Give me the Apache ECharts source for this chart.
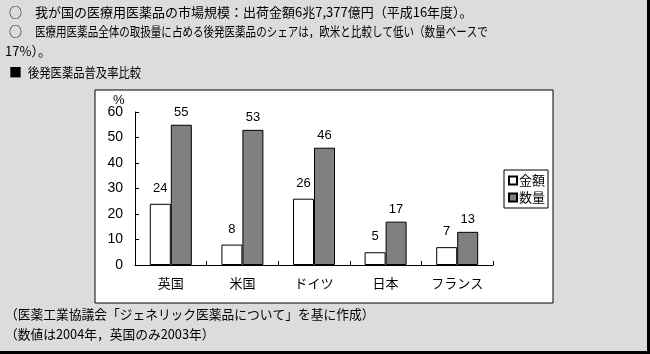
<!DOCTYPE html>
<html><head><meta charset="utf-8">
<script src="https://cdn.jsdelivr.net/npm/echarts@6/dist/echarts.min.js"></script>
<style>html,body{margin:0;padding:0;background:#dcdcdc;}#c{width:650px;height:354px;}</style>
</head><body><div id="c"></div>
<script>
const categories = ['英国', '米国', 'ドイツ', '日本', 'フランス'];
const seriesNames = ['金額', '数量'];
const valueAmount = [24, 8, 26, 5, 7];
const valueVolume = [55, 53, 46, 17, 13];
const yTicks = [0, 10, 20, 30, 40, 50, 60];
const headerBullets = ['○', '○', '', '■'];
const headerLines = [
  '我が国の医療用医薬品の市場規模：出荷金額6兆7,377億円（平成16年度）。',
  '医療用医薬品全体の取扱量に占める後発医薬品のシェアは，欧米と比較して低い（数量ベースで',
  '17%）。',
  '後発医薬品普及率比較'
];
const footerLines = [
  '（医薬工業協議会「ジェネリック医薬品について」を基に作成）',
  '（数値は2004年，英国のみ2003年）'
];

const JP = '"Noto Sans CJK JP", sans-serif';
const NUM = '"Liberation Sans", Arial, sans-serif';
const chart = echarts.init(document.getElementById('c'), null, {renderer: 'canvas'});

const headerY = [15, 34, 54, 75];
const headerX = [35, 35, 5, 28];
const headerScale = [1, 0.81, 1, 0.87];
const graphics = [
  {type: 'rect', z: -10, shape: {x: 95, y: 90, width: 458, height: 213}, style: {fill: '#fff', stroke: '#000', lineWidth: 1}},
  {type: 'rect', z: 10, shape: {x: 647, y: 0, width: 3, height: 354}, style: {fill: '#000'}},
  {type: 'rect', z: 10, shape: {x: 0, y: 351, width: 650, height: 3}, style: {fill: '#000'}},
  {type: 'text', left: 113, top: 94, style: {text: '%', font: '13px ' + NUM, fill: '#000'}}
];
headerLines.forEach((t, i) => {
  if (headerBullets[i]) graphics.push({type: 'text', x: 9, y: headerY[i] - 9,
    style: {text: headerBullets[i], font: '13px ' + JP, fill: '#000'}});
  graphics.push({type: 'text', x: headerX[i], y: headerY[i] - 9,
    scaleX: headerScale[i], style: {text: t, font: '13px ' + JP, fill: '#000'}});
});
footerLines.forEach((t, i) => graphics.push({type: 'text', x: 5, y: [316, 336][i] - 8,
  scaleX: 0.98, style: {text: t, font: '13px ' + JP, fill: '#000'}}));

chart.setOption({
  backgroundColor: '#dcdcdc',
  animation: false,
  grid: {left: 135, top: 112, right: 157, bottom: 89, containLabel: false},
  legend: {
    left: 504, top: 170, orient: 'vertical', itemWidth: 8, itemHeight: 8, itemGap: 4,
    padding: [4, 3, 4, 4], borderColor: '#000', borderWidth: 1, backgroundColor: '#fff',
    textStyle: {fontFamily: JP, fontSize: 13, color: '#000', padding: [0, 0, 0, -3]},
    icon: 'rect', data: seriesNames
  },
  xAxis: {
    type: 'category', data: categories,
    axisLine: {lineStyle: {color: '#000', width: 1}},
    axisTick: {show: true, inside: true, length: 4, lineStyle: {color: '#000'}},
    axisLabel: {fontFamily: JP, fontSize: 13, color: '#000', margin: 12}
  },
  yAxis: {
    type: 'value', min: yTicks[0], max: yTicks[yTicks.length - 1], interval: 10,
    axisLine: {show: true, lineStyle: {color: '#000', width: 1}},
    axisTick: {show: true, inside: true, length: 4, lineStyle: {color: '#000'}},
    splitLine: {show: false},
    axisLabel: {fontFamily: NUM, fontSize: 14, color: '#000', margin: 12}
  },
  series: [
    {name: seriesNames[0], type: 'bar', data: valueAmount, barWidth: 21, barGap: '0%',
     itemStyle: {color: '#fff', borderColor: '#000', borderWidth: 1},
     label: {show: true, position: 'top', distance: 9, fontFamily: NUM, fontSize: 13, color: '#000'}},
    {name: seriesNames[1], type: 'bar', data: valueVolume, barWidth: 21,
     itemStyle: {color: '#808080', borderColor: '#000', borderWidth: 1},
     label: {show: true, position: 'top', distance: 6, fontFamily: NUM, fontSize: 13, color: '#000'}}
  ],
  graphic: graphics
});
</script></body></html>
